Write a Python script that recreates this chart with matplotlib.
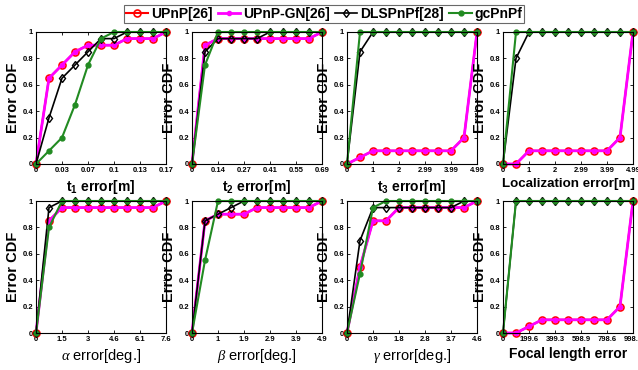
import numpy as np
import matplotlib
matplotlib.use('Agg')
import matplotlib.pyplot as plt

plt.rcParams['font.family'] = ['Liberation Sans', 'DejaVu Sans']
plt.rcParams['mathtext.fontset'] = 'custom'
plt.rcParams['mathtext.rm'] = 'Liberation Sans'
plt.rcParams['mathtext.bf'] = 'Liberation Sans:bold'
plt.rcParams['mathtext.it'] = 'Liberation Serif:italic'

# x ranges and tick labels of each panel
x_max = [0.166, 0.687, 4.99, 4.99, 7.6, 4.86, 4.6, 998.3]
tick_labels = [
    ['0', '0.03', '0.07', '0.1', '0.13', '0.17'],
    ['0', '0.14', '0.27', '0.41', '0.55', '0.69'],
    ['0', '1', '2', '2.99', '3.99', '4.99'],
    ['0', '1', '2', '2.99', '3.99', '4.99'],
    ['0', '1.5', '3', '4.6', '6.1', '7.6'],
    ['0', '1', '1.9', '2.9', '3.9', '4.9'],
    ['0', '0.9', '1.8', '2.8', '3.7', '4.6'],
    ['0', '199.6', '399.3', '598.9', '798.6', '998.3'],
]
xlabels = [r'$\mathbf{t_1}$ error[m]', r'$\mathbf{t_2}$ error[m]', r'$\mathbf{t_3}$ error[m]',
           'Localization error[m]', r'$\alpha$ error[deg.]', r'$\beta$ error[deg.]',
           r'$\gamma$ error[deg.]', 'Focal length error']

# CDF values (UPnP and UPnP-GN overlap)
upnp = [
    [0, .65, .75, .85, .9, .9, .9, .95, .95, .95, 1],
    [0, .9, .95, .95, .95, .95, .95, .95, .95, .95, 1],
    [0, .05, .1, .1, .1, .1, .1, .1, .1, .2, 1],
    [0, 0, .1, .1, .1, .1, .1, .1, .1, .2, 1],
    [0, .85, .95, .95, .95, .95, .95, .95, .95, .95, 1],
    [0, .85, .9, .9, .9, .95, .95, .95, .95, .95, 1],
    [0, .5, .85, .85, .95, .95, .95, .95, .95, .95, 1],
    [0, 0, .05, .1, .1, .1, .1, .1, .1, .2, 1],
]
upnp_gn = upnp
dls = [
    [0, .35, .65, .75, .85, .95, .95, 1, 1, 1, 1],
    [0, .85, .95, .95, .95, .95, 1, 1, 1, 1, 1],
    [0, .85, 1, 1, 1, 1, 1, 1, 1, 1, 1],
    [0, .8, 1, 1, 1, 1, 1, 1, 1, 1, 1],
    [0, .95, 1, 1, 1, 1, 1, 1, 1, 1, 1],
    [0, .85, .9, .95, 1, 1, 1, 1, 1, 1, 1],
    [0, .7, .95, .95, .95, .95, .95, .95, .95, 1, 1],
    [0, 1, 1, 1, 1, 1, 1, 1, 1, 1, 1],
]
gc = [
    [0, .1, .2, .45, .75, .95, 1, 1, 1, 1, 1],
    [0, .75, 1, 1, 1, 1, 1, 1, 1, 1, 1],
    [0, 1, 1, 1, 1, 1, 1, 1, 1, 1, 1],
    [0, 1, 1, 1, 1, 1, 1, 1, 1, 1, 1],
    [0, .8, 1, 1, 1, 1, 1, 1, 1, 1, 1],
    [0, .55, 1, 1, 1, 1, 1, 1, 1, 1, 1],
    [0, .45, .95, 1, 1, 1, 1, 1, 1, 1, 1],
    [0, 1, 1, 1, 1, 1, 1, 1, 1, 1, 1],
]

fig = plt.figure(figsize=(6.38, 3.70), dpi=100)
W, H = 638, 370
lefts = [36, 192, 347, 503]
green = '#228B22'

for i in range(8):
    row, col = divmod(i, 4)
    top = 32 if row == 0 else 201
    ax = fig.add_axes([lefts[col] / W, 1 - (top + 132) / H, 130 / W, 132 / H])
    x = np.linspace(0, x_max[i], 11)
    ax.plot(x, upnp[i], color='red', marker='o', ms=5, mfc='none', mew=1.2, lw=1.5,
            label='UPnP[26]', clip_on=False)
    ax.plot(x, upnp_gn[i], color='magenta', marker='.', ms=6, lw=2,
            label='UPnP-GN[26]', clip_on=False)
    ax.plot(x, dls[i], color='black', marker='d', ms=4.5, mfc='none', mew=1, lw=1.2,
            label='DLSPnPf[28]', clip_on=False)
    ax.plot(x, gc[i], color=green, marker='.', ms=7, lw=1.5,
            label='gcPnPf', clip_on=False)
    ax.set_xlim(0, x_max[i])
    ax.set_ylim(0, 1)
    ax.set_xticks(x[::2])
    ax.set_xticklabels(tick_labels[i])
    ax.set_yticks([0, 0.2, 0.4, 0.6, 0.8, 1])
    ax.set_yticklabels(['0', '0.2', '0.4', '0.6', '0.8', '1'])
    ax.tick_params(direction='in', length=2, width=0.6, labelsize=5.5, pad=2,
                   top=True, right=True)
    for lab in ax.get_xticklabels() + ax.get_yticklabels():
        lab.set_fontweight('bold')
    for s in ax.spines.values():
        s.set_linewidth(0.8)
    ax.set_ylabel('Error CDF', fontsize=10.5, fontweight='bold', labelpad=2)
    bold = not (row == 1 and col < 3)
    if i == 3:
        size = 9.6
    elif bold:
        size = 10
    else:
        size = 10.5
    ax.set_xlabel(xlabels[i], fontsize=size, fontweight='bold' if bold else 'normal', labelpad=3)
    if i == 0:
        handles, labels = ax.get_legend_handles_labels()

leg = fig.legend(handles, labels, loc='upper center', ncol=4, bbox_to_anchor=(0.508, 0.986),
                 prop={'weight': 'bold', 'size': 10}, frameon=True, fancybox=False,
                 handlelength=1.6, handletextpad=0.2, columnspacing=0.4, borderpad=0.15,
                 borderaxespad=0)
leg.get_frame().set_edgecolor('#444444')
leg.get_frame().set_linewidth(0.8)

plt.savefig('out.png', dpi=100)
